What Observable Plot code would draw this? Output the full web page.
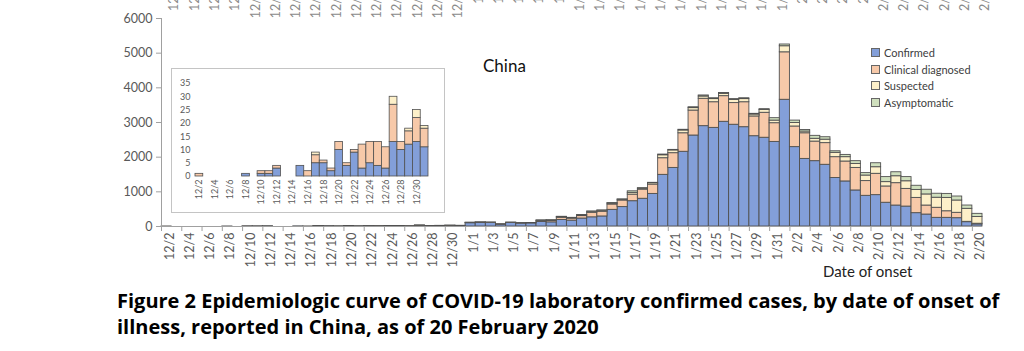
<!DOCTYPE html>
<html><head><meta charset="utf-8">
<script src="https://cdn.jsdelivr.net/npm/d3@7"></script>
<script src="https://cdn.jsdelivr.net/npm/@observablehq/plot@0.6"></script>
<style>
body{margin:0;background:#fff;}
#wrap{position:relative;width:1024px;height:351px;overflow:hidden;font-family:Lato,"Open Sans",sans-serif;background:#fff;}
#main{position:absolute;left:0;top:0;}
#inset{position:absolute;left:171px;top:68px;border:1px solid #c4c4c4;width:272px;height:143px;background:#fff;}
#china{position:absolute;left:483px;top:55px;font-size:17px;color:#111;}
#legend{position:absolute;left:871px;top:45px;font-size:11px;color:#404040;}
#legend .row{height:16.5px;line-height:16.5px;white-space:nowrap;}
#legend .sw{display:inline-block;width:7px;height:7px;border:1px solid #666;margin-right:4px;vertical-align:-0px;}
#xlab{position:absolute;left:823px;top:262px;font-size:15px;color:#222;}
#caption{position:absolute;left:117px;top:288px;font-family:"Open Sans",sans-serif;font-size:20px;font-weight:bold;line-height:26px;color:#000;white-space:nowrap;}
</style></head>
<body><div id="wrap">
<div id="main"></div>
<div id="china">China</div>
<div id="legend"></div>
<div id="inset"></div>
<div id="xlab">Date of onset</div>
<div id="caption">Figure 2 Epidemiologic curve of COVID-19 laboratory confirmed cases, by date of onset of<br>illness, reported in China, as of 20 February 2020</div>
</div>
<script>
const dates = ["12/2","12/3","12/4","12/5","12/6","12/7","12/8","12/9","12/10","12/11","12/12","12/13","12/14","12/15","12/16","12/17","12/18","12/19","12/20","12/21","12/22","12/23","12/24","12/25","12/26","12/27","12/28","12/29","12/30","12/31",
"1/1","1/2","1/3","1/4","1/5","1/6","1/7","1/8","1/9","1/10","1/11","1/12","1/13","1/14","1/15","1/16","1/17","1/18","1/19","1/20","1/21","1/22","1/23","1/24","1/25","1/26","1/27","1/28","1/29","1/30","1/31",
"2/1","2/2","2/3","2/4","2/5","2/6","2/7","2/8","2/9","2/10","2/11","2/12","2/13","2/14","2/15","2/16","2/17","2/18","2/19","2/20"];

const confirmed = [0,0,0,0,0,0,1,0,1,1,3,0,0,4,0,5,5,2,10,4,9,3,5,4,3,13,10,12,13,11,
95,105,100,55,100,85,90,130,120,190,170,230,265,290,480,560,730,800,940,1490,1690,2155,2625,2895,2845,3020,2935,2865,2605,2560,2440,
3655,2290,1950,1885,1780,1400,1300,1040,885,905,685,605,575,385,345,250,250,240,125,60];
const clinical = [1,0,0,0,0,0,0,0,1,1,1,0,0,0,2,3,1,1,3,1,1,9,8,9,8,14,3,5,9,7,
10,10,10,5,8,8,8,30,40,60,55,70,130,135,155,190,190,265,270,480,425,535,720,790,740,740,625,720,570,720,540,
1370,595,740,565,625,600,575,650,425,615,470,645,510,440,260,290,190,155,10,20];
const suspected = [0,0,0,0,0,0,0,0,0,0,0,0,0,0,0,1,0,0,0,0,0,0,0,0,0,3,0,1,3,1,
5,5,5,3,5,4,4,10,15,25,20,25,30,30,30,25,50,30,40,85,80,80,70,65,90,65,90,90,55,80,75,
175,100,50,80,100,125,125,115,160,190,125,200,220,230,320,290,385,355,375,195];
const asymptomatic = [0,0,0,0,0,0,0,0,0,0,0,0,0,0,0,0,0,0,0,0,0,0,0,0,0,0,0,0,0,0,
0,0,0,0,0,0,0,5,5,5,5,5,8,8,10,5,45,10,10,20,15,20,25,30,25,25,25,25,20,25,70,
50,70,45,85,70,45,65,80,70,115,145,115,120,120,135,115,115,115,95,90];

const seriesNames = ["Confirmed","Clinical diagnosed","Suspected","Asymptomatic"];
const seriesColors = ["#839fd9","#f7c9a9","#fdf0c9","#cfdfbd"];
const yTicks = [0,1000,2000,3000,4000,5000,6000];
const insetTicks = [0,5,10,15,20,25,30,35];
const insetDays = 30;

const table = [];
[confirmed, clinical, suspected, asymptomatic].forEach((arr, s) =>
  arr.forEach((v, i) => table.push({i, date: dates[i], series: seriesNames[s], value: v})));

const n = dates.length;
const labelIdx = d3.range(0, n, 2);
const axisColor = "#a0a0a0";
const textColor = "#595959";

const main = Plot.plot({
  width: 1024, height: 280,
  marginTop: 18, marginBottom: 54, marginLeft: 161, marginRight: 42,
  x: {type: "linear", domain: [0, n], axis: null},
  y: {domain: [0, 6000], axis: null},
  color: {domain: seriesNames, range: seriesColors},
  style: {fontFamily: "Lato, sans-serif", background: "transparent"},
  marks: [
    Plot.rectY(table, {x1: "i", x2: d => d.i + 1, y: "value", fill: "series", stroke: "#505050", strokeWidth: 0.9}),
    Plot.ruleY([0], {stroke: axisColor}),
    Plot.ruleX([0], {stroke: axisColor}),
    Plot.axisY({ticks: yTicks, tickSize: 5, tickPadding: 4, tickFormat: d3.format("d"), fontSize: 12.5, fill: textColor, stroke: axisColor, label: null}),
    Plot.axisX({ticks: labelIdx, tickSize: 5, tickFormat: () => "", stroke: axisColor, label: null}),
    Plot.axisX({ticks: labelIdx.map(k => k + 0.5), tickSize: 0, tickPadding: 6, tickRotate: -90, tickFormat: t => dates[Math.floor(t)], fontSize: 12.5, fill: textColor, dx: 3, label: null}),
    Plot.text(labelIdx, {x: k => k + 0.5, text: k => dates[k], frameAnchor: "top", rotate: -90, textAnchor: "end", dx: 3, dy: -35, fontSize: 12.5, fill: "#8a8a8a"})
  ]
});
document.getElementById("main").appendChild(main);

const inset = Plot.plot({
  width: 272, height: 143,
  marginTop: 14, marginBottom: 36, marginLeft: 23, marginRight: 16,
  x: {type: "linear", domain: [0, insetDays], axis: null},
  y: {domain: [0, 35], axis: null},
  color: {domain: seriesNames, range: seriesColors},
  style: {fontFamily: "Lato, sans-serif", background: "transparent"},
  marks: [
    Plot.rectY(table.filter(d => d.i < insetDays), {x1: "i", x2: d => d.i + 1, y: "value", fill: "series", stroke: "#505050", strokeWidth: 0.8}),
    Plot.axisY({ticks: insetTicks, tickSize: 0, tickPadding: 5, fontSize: 9, fill: textColor, label: null}),
    Plot.axisX({ticks: d3.range(0, insetDays, 2).map(k => k + 0.5), tickSize: 0, tickPadding: 3, tickRotate: -90, tickFormat: t => dates[Math.floor(t)], fontSize: 9, fill: textColor, label: null})
  ]
});
document.getElementById("inset").appendChild(inset);

const legend = d3.select("#legend");
seriesNames.forEach((name, s) => {
  const row = legend.append("div").attr("class", "row");
  row.append("span").attr("class", "sw").style("background", seriesColors[s]);
  row.append("span").text(name);
});
</script>
</body></html>
